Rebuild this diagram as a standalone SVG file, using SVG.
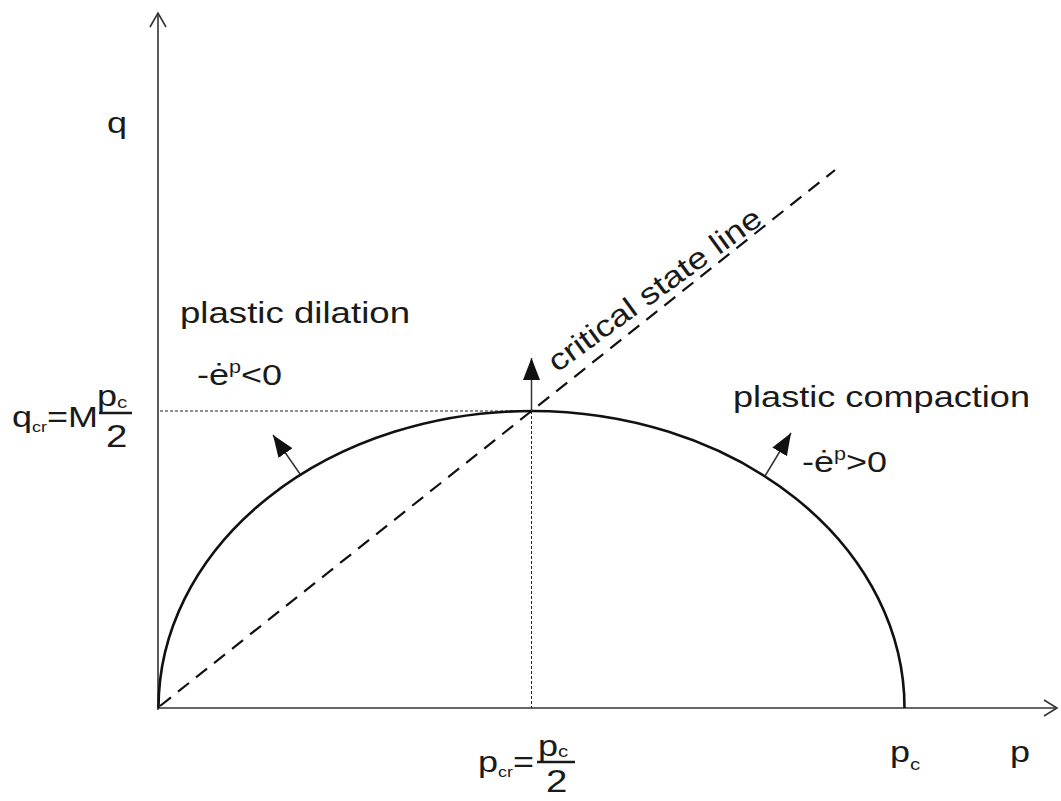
<svg xmlns="http://www.w3.org/2000/svg" width="1061" height="801" viewBox="0 0 1061 801">
  <defs>
    <style>
      .t { font-family: "Liberation Sans", Arial, sans-serif; font-size: 30px; fill: #1a1a1a; }
      .axis { stroke: #333; stroke-width: 1.6; fill: none; }
      .curve { stroke: #111; stroke-width: 2.6; fill: none; }
      .csl { stroke: #111; stroke-width: 2.2; fill: none; stroke-dasharray: 14 9; }
      .dot { stroke: #222; stroke-width: 1; fill: none; stroke-dasharray: 3 2; }
      .arr { stroke: #333; stroke-width: 1.5; fill: none; marker-end: url(#head); }
      .bar { stroke: #1a1a1a; stroke-width: 2.4; }
    </style>
    <marker id="head" markerUnits="userSpaceOnUse" markerWidth="24" markerHeight="18" refX="22" refY="8.5" orient="auto">
      <path d="M0,0 L22,8.5 L0,17 z" fill="#111"/>
    </marker>
  </defs>

  <g id="axes">
    <path class="axis" d="M158,710 V13"/>
    <path class="axis" d="M150,27 L158,13 L166,27"/>
    <path class="axis" d="M157,708 H1057"/>
    <path class="axis" d="M1044,700 L1057,708 L1044,716"/>
  </g>

  <g id="guides">
    <path class="dot" d="M160,411 H531.5"/>
    <path class="dot" d="M531.5,411 V708"/>
  </g>

  <g id="yield-surface">
    <path class="curve" d="M158.5,708 A373,297 0 0 1 904.5,708"/>
  </g>

  <g id="critical-state-line">
    <path class="csl" d="M160,706 L835,170"/>
    <text class="t" transform="translate(557,373) rotate(-36) scale(1.2,1)">critical state line</text>
  </g>

  <g id="connectors">
    <path class="arr" d="M531.5,411 V358"/>
    <path class="arr" d="M300,474 L273,435"/>
    <path class="arr" d="M765,476 L791,433"/>
  </g>

  <g id="labels">
    <text class="t" transform="translate(107,133) scale(1.2,1)">q</text>
    <text class="t" x="180" y="323" textLength="230" lengthAdjust="spacingAndGlyphs">plastic dilation</text>
    <text class="t" transform="translate(197,385) scale(1.2,1)">-ė<tspan font-size="18" dy="-12">p</tspan><tspan dy="12">&lt;0</tspan></text>
    <text class="t" x="733" y="407" textLength="297" lengthAdjust="spacingAndGlyphs">plastic compaction</text>
    <text class="t" transform="translate(802,472) scale(1.2,1)">-ė<tspan font-size="18" dy="-12">p</tspan><tspan dy="12">&gt;0</tspan></text>
  </g>

  <g id="qcr-label">
    <text class="t" transform="translate(12,427) scale(1.2,1)">q<tspan font-size="15" dy="5">cr</tspan><tspan dy="-5">=M</tspan></text>
    <text class="t" transform="translate(97,406) scale(1.2,1)">p<tspan font-size="17" dy="2">c</tspan></text>
    <line class="bar" x1="99" y1="413" x2="132" y2="413"/>
    <text class="t" style="font-size:32px" transform="translate(106,447) scale(1.2,1)">2</text>
  </g>

  <g id="pcr-label">
    <text class="t" transform="translate(478,772) scale(1.2,1)">p<tspan font-size="15" dy="5">cr</tspan><tspan dy="-5">=</tspan></text>
    <text class="t" transform="translate(538,756) scale(1.2,1)">p<tspan font-size="17" dy="1">c</tspan></text>
    <line class="bar" x1="537" y1="762" x2="575" y2="762"/>
    <text class="t" style="font-size:32px" transform="translate(546,792) scale(1.2,1)">2</text>
  </g>

  <g id="pc-label">
    <text class="t" transform="translate(890,762) scale(1.2,1)">p<tspan font-size="17" dy="8">c</tspan></text>
  </g>

  <g id="p-label">
    <text class="t" transform="translate(1010,762) scale(1.2,1)">p</text>
  </g>
</svg>
